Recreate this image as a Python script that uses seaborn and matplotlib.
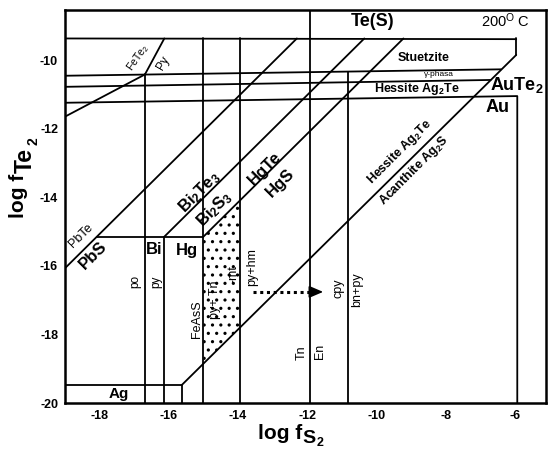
import matplotlib
matplotlib.use("Agg")
import matplotlib.pyplot as plt
import pandas as pd
import seaborn as sns

sns.set_theme(style="white")
plt.rcParams["font.family"] = ["Liberation Sans", "DejaVu Sans"]
plt.rcParams["mathtext.fontset"] = "custom"
plt.rcParams["mathtext.rm"] = "Liberation Sans"
plt.rcParams["mathtext.it"] = "Liberation Sans:italic"
plt.rcParams["mathtext.bf"] = "Liberation Sans:bold"
plt.rcParams["hatch.linewidth"] = 1.1

# axis ranges and ticks (log fS2, log fTe2)
x_range = [-19.0, -5.1]
y_range = [-20.0, -8.54]
x_ticks = [-18, -16, -14, -12, -10, -8, -6]
y_ticks = [-20, -18, -16, -14, -12, -10]

# phase boundaries: each entry is (log fS2 list, log fTe2 list)
te_s_boundary = ([-19.0, -5.96], [-9.37, -9.39])
aute2_edge = ([-5.96, -5.96], [-9.37, -9.85])
stuetzite_gamma = ([-19.0, -6.40], [-10.457, -10.27])
gamma_hessite = ([-19.0, -6.70], [-10.78, -10.58])
hessite_au = ([-19.0, -5.93, -5.93], [-11.245, -11.05, -20.0])
fete2_py = ([-19.0, -16.69, -16.13], [-11.65, -10.42, -9.37])
po_py = ([-16.69, -16.69], [-10.42, -20.0])
feass = ([-15.0, -15.0], [-9.37, -20.0])
py_mt = ([-13.95, -13.95], [-9.37, -20.0])
tn_en = ([-11.92, -11.92], [-8.54, -20.0])
cpy_bn = ([-10.83, -10.83], [-10.336, -20.0])
bi_hg = ([-16.13, -16.13], [-15.15, -20.0])
bi_hg_top = ([-18.08, -15.0], [-15.15, -15.15])
pbte_pbs = ([-19.0, -12.30], [-16.07, -9.37])
bi2te3_bi2s3 = ([-16.13, -10.35], [-15.15, -9.37])
hgte_hgs = ([-15.0, -9.22], [-15.15, -9.37])
ag2te_ag2s = ([-15.63, -5.96], [-19.48, -9.85])
ag_box = ([-19.0, -15.63, -15.63], [-19.48, -19.48, -20.0])

# stippled py + Tn + mt field
field_x = [-15.0, -13.95, -13.95, -15.0]
field_y = [-15.15, -14.10, -17.82, -18.87]

# sulfidation path
path_x = [-13.57, -11.46]
path_y = [-16.76, -16.76]

boundaries = {
    "te_s": te_s_boundary, "aute2": aute2_edge, "stuetzite": stuetzite_gamma,
    "gamma": gamma_hessite, "hessite_au": hessite_au, "fete2": fete2_py,
    "po_py": po_py, "feass": feass, "py_mt": py_mt, "tn_en": tn_en,
    "cpy_bn": cpy_bn, "bi_hg": bi_hg, "bi_hg_top": bi_hg_top,
    "pbte": pbte_pbs, "bi2te3": bi2te3_bi2s3, "hgte": hgte_hgs,
    "ag2te": ag2te_ag2s, "ag": ag_box,
}
rows = []
for name, (xs, ys) in boundaries.items():
    for i, (xv, yv) in enumerate(zip(xs, ys)):
        rows.append({"seg": name, "order": i, "logS2": xv, "logTe2": yv})
df = pd.DataFrame(rows)

fig = plt.figure(figsize=(5.49, 4.49), dpi=100)
ax = fig.add_axes([65 / 549, 1 - 403 / 449, (546 - 65) / 549, (403 - 10) / 449])

sns.lineplot(data=df, x="logS2", y="logTe2", units="seg", estimator=None,
             sort=False, color="black", linewidth=1.3, ax=ax, legend=False)

ax.fill(field_x, field_y, facecolor="none", edgecolor="black", linewidth=0,
        hatch="..")

ax.plot([path_x[0], path_x[1] - 0.3], path_y, color="black",
        linestyle=(0, (1, 1.2)), linewidth=2.2)
ax.annotate("", xy=(path_x[1], path_y[1]), xytext=(path_x[1] - 0.35, path_y[1]),
            arrowprops=dict(arrowstyle="-|>,head_length=0.7,head_width=0.3",
                            color="black", lw=1.2))

ax.set_xlim(*x_range)
ax.set_ylim(*y_range)
ax.set_xticks(x_ticks)
ax.set_yticks(y_ticks)
ax.set_xticklabels([str(v) for v in x_ticks], fontweight="bold", fontsize=9)
ax.set_yticklabels([str(v) for v in y_ticks], fontweight="bold", fontsize=9)
ax.tick_params(direction="in", length=8, width=1.4, pad=5, colors="black")
ax.set_xlabel("")
ax.set_ylabel("")
for side in ax.spines.values():
    side.set_color("black")
    side.set_linewidth(1.8)


def label(x, y, s, size=8, weight="normal", rot=0, **kw):
    ax.text(x, y, s, fontsize=size, fontweight=weight, rotation=rot,
            ha="center", va="center", rotation_mode="anchor", color="black", **kw)


label(-10.10, -8.88, "Te(S)", 13, "bold")
label(-6.26, -8.85, r"200$^{\mathrm{O}}$ C", 10.5)
label(-8.65, -9.94, "Stuetzite", 9, "bold")
label(-8.19, -10.42, "γ-phasa", 6)
label(-8.84, -10.83, r"Hessite Ag$_\mathbf{2}$Te", 9, "bold")
label(-5.95, -10.73, r"AuTe$_\mathbf{2}$", 13, "bold")
label(-6.50, -11.39, "Au", 13, "bold")
label(-9.32, -12.67, r"Hessite Ag$_\mathbf{2}$Te", 9, "bold", 45)
label(-8.91, -13.23, r"Acanthite Ag$_\mathbf{2}$S", 9, "bold", 45)
label(-16.89, -9.94, r"FeTe$_2$", 7.5, rot=55)
label(-16.17, -10.09, "Py", 8.5, rot=60)
label(-18.54, -15.13, "PbTe", 9, rot=45)
label(-18.19, -15.69, "PbS", 12, "bold", 45)
label(-16.43, -15.51, "Bi", 12, "bold")
label(-15.48, -15.54, "Hg", 12, "bold")
label(-17.44, -19.74, "Ag", 11, "bold")
label(-15.10, -13.85, r"Bi$_\mathbf{2}$Te$_\mathbf{3}$", 12, "bold", 45)
label(-14.69, -14.34, r"Bi$_\mathbf{2}$S$_\mathbf{3}$", 12, "bold", 45)
label(-13.22, -13.15, "HgTe", 12, "bold", 45)
label(-12.79, -13.59, "HgS", 12, "bold", 45)
label(-16.98, -16.46, "po", 8.5, rot=90)
label(-16.35, -16.46, "py", 8.5, rot=90)
label(-15.19, -17.55, "FeAsS", 9, rot=90)
label(-14.67, -17.0, "py+ Tn", 9, rot=90)
label(-14.14, -16.24, "-mt", 9, rot=90)
label(-13.60, -16.03, "py+hm", 9, rot=90)
label(-12.16, -18.54, "Tn", 9, rot=90)
label(-11.63, -18.50, "En", 9, rot=90)
label(-11.10, -16.66, "cpy", 9, rot=90)
label(-10.55, -16.71, "bn+py", 9, rot=90)

# axis titles built from pieces so the subscripts keep a large size
W, H = 549, 449
txt = dict(fontweight="bold", color="black", ha="left", va="baseline",
           rotation_mode="anchor")
fig.text(258 / W, 1 - 439 / H, "log f", fontsize=15, **txt)
fig.text(302 / W, 1 - 443 / H, "S", fontsize=14, **txt)
fig.text(317 / W, 1 - 446 / H, "2", fontsize=9, **txt)
fig.text(24 / W, 1 - 218 / H, "log f", fontsize=15, rotation=90, **txt)
fig.text(32 / W, 1 - 173 / H, "Te", fontsize=16.5, rotation=90, **txt)
fig.text(37 / W, 1 - 145 / H, "2", fontsize=10, rotation=90, **txt)

fig.savefig("out.png", dpi=100)
